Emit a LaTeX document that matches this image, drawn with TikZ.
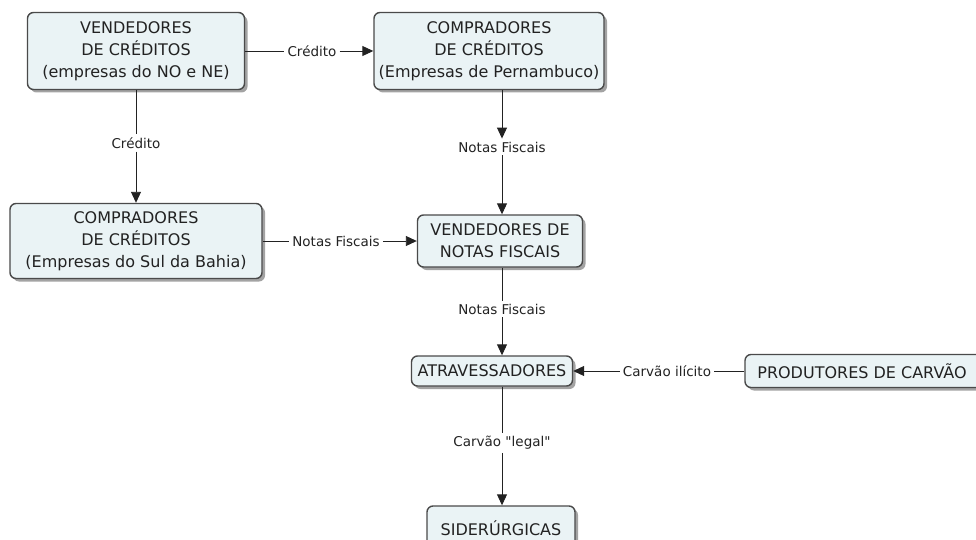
\documentclass[tikz,border=0pt]{standalone}
\usepackage{fontspec}
\setmainfont{DejaVu Sans}
\usepackage{tikz}
\usetikzlibrary{arrows.meta}
\usetikzlibrary{shadows}
\definecolor{boxfill}{HTML}{EAF3F5}
\definecolor{boxline}{HTML}{4A4A4A}
\definecolor{txt}{HTML}{222222}

\begin{document}
\begin{tikzpicture} [x=1pt,y=-1pt,
    caixa/.style={draw=boxline,line width=1.4pt,fill=boxfill,rounded corners=6pt,
      align=center,font=\fontsize{16}{22}\selectfont,text=txt,inner sep=0pt,
      drop shadow={shadow xshift=3pt,shadow yshift=-3pt,fill=black!45,opacity=0.8}},
    rotulo/.style={font=\fontsize{13.5}{16}\selectfont,text=txt,inner sep=3pt},
    seta/.style={-{Triangle[length=11pt,width=10pt]},line width=0.9pt,draw=txt},
    linha/.style={line width=0.9pt,draw=txt}]
      \useasboundingbox (0,0) rectangle (976,540); %fixes page

      %BOXES
      \node[caixa,minimum width=217pt,minimum height=77pt] (vendcred) at (136,51)
        {VENDEDORES\\DE CRÉDITOS\\(empresas do NO e NE)};
      \node[caixa,minimum width=230pt,minimum height=77pt] (comppern) at (489,51)
        {COMPRADORES\\DE CRÉDITOS\\(Empresas de Pernambuco)};
      \node[caixa,minimum width=252pt,minimum height=75pt] (compbahia) at (136,241)
        {COMPRADORES\\DE CRÉDITOS\\(Empresas do Sul da Bahia)};
      \node[caixa,minimum width=165pt,minimum height=52pt] (vendnotas) at (500,241)
        {VENDEDORES DE\\NOTAS FISCAIS};
      \node[caixa,minimum width=161pt,minimum height=30pt] (atrav) at (492,371)
        {ATRAVESSADORES};
      \node[caixa,minimum width=250pt,minimum height=33pt] (produt) at (870,371)
        {\hspace*{-16pt}PRODUTORES DE CARVÃO};
      \node[caixa,minimum width=148pt,minimum height=44pt] (sider) at (501,528)
        {SIDERÚRGICAS};

      %LABELS
      \node[rotulo] (credA) at (312,51) {Crédito};
      \node[rotulo] (credB) at (136,143) {Crédito};
      \node[rotulo] (notasA) at (502,147) {Notas Fiscais};
      \node[rotulo] (notasB) at (336,241) {Notas Fiscais};
      \node[rotulo] (notasC) at (502,309) {Notas Fiscais};
      \node[rotulo] (ilicito) at (667,371) {Carvão ilícito};
      \node[rotulo] (legal) at (502,443) {Carvão \textquotedbl legal\textquotedbl};

      %CONNECTORS
      \draw[linha] (vendcred.east) -- (credA.west); %credito across
      \draw[seta] (credA.east) -- (comppern.west);
      \draw[linha] (vendcred.south) -- (credB.north); %credito down
      \draw[seta] (credB.south) -- (compbahia.north);
      \draw[seta] (comppern.south -| notasA.north) -- (notasA.north); %notas down
      \draw[seta] (notasA.south) -- (notasA.south |- vendnotas.north);
      \draw[linha] (compbahia.east) -- (notasB.west); %notas across
      \draw[seta] (notasB.east) -- (vendnotas.west);
      \draw[linha] (notasC.north |- vendnotas.south) -- (notasC.north); %notas to atrav
      \draw[seta] (notasC.south) -- (notasC.south |- atrav.north);
      \draw[linha] (produt.west) -- (ilicito.east); %carvao ilicito
      \draw[seta] (ilicito.west) -- (atrav.east);
      \draw[linha] (legal.north |- atrav.south) -- (legal.north); %carvao legal
      \draw[seta] (legal.south) -- (legal.south |- sider.north);
    \end{tikzpicture}
\end{document}
